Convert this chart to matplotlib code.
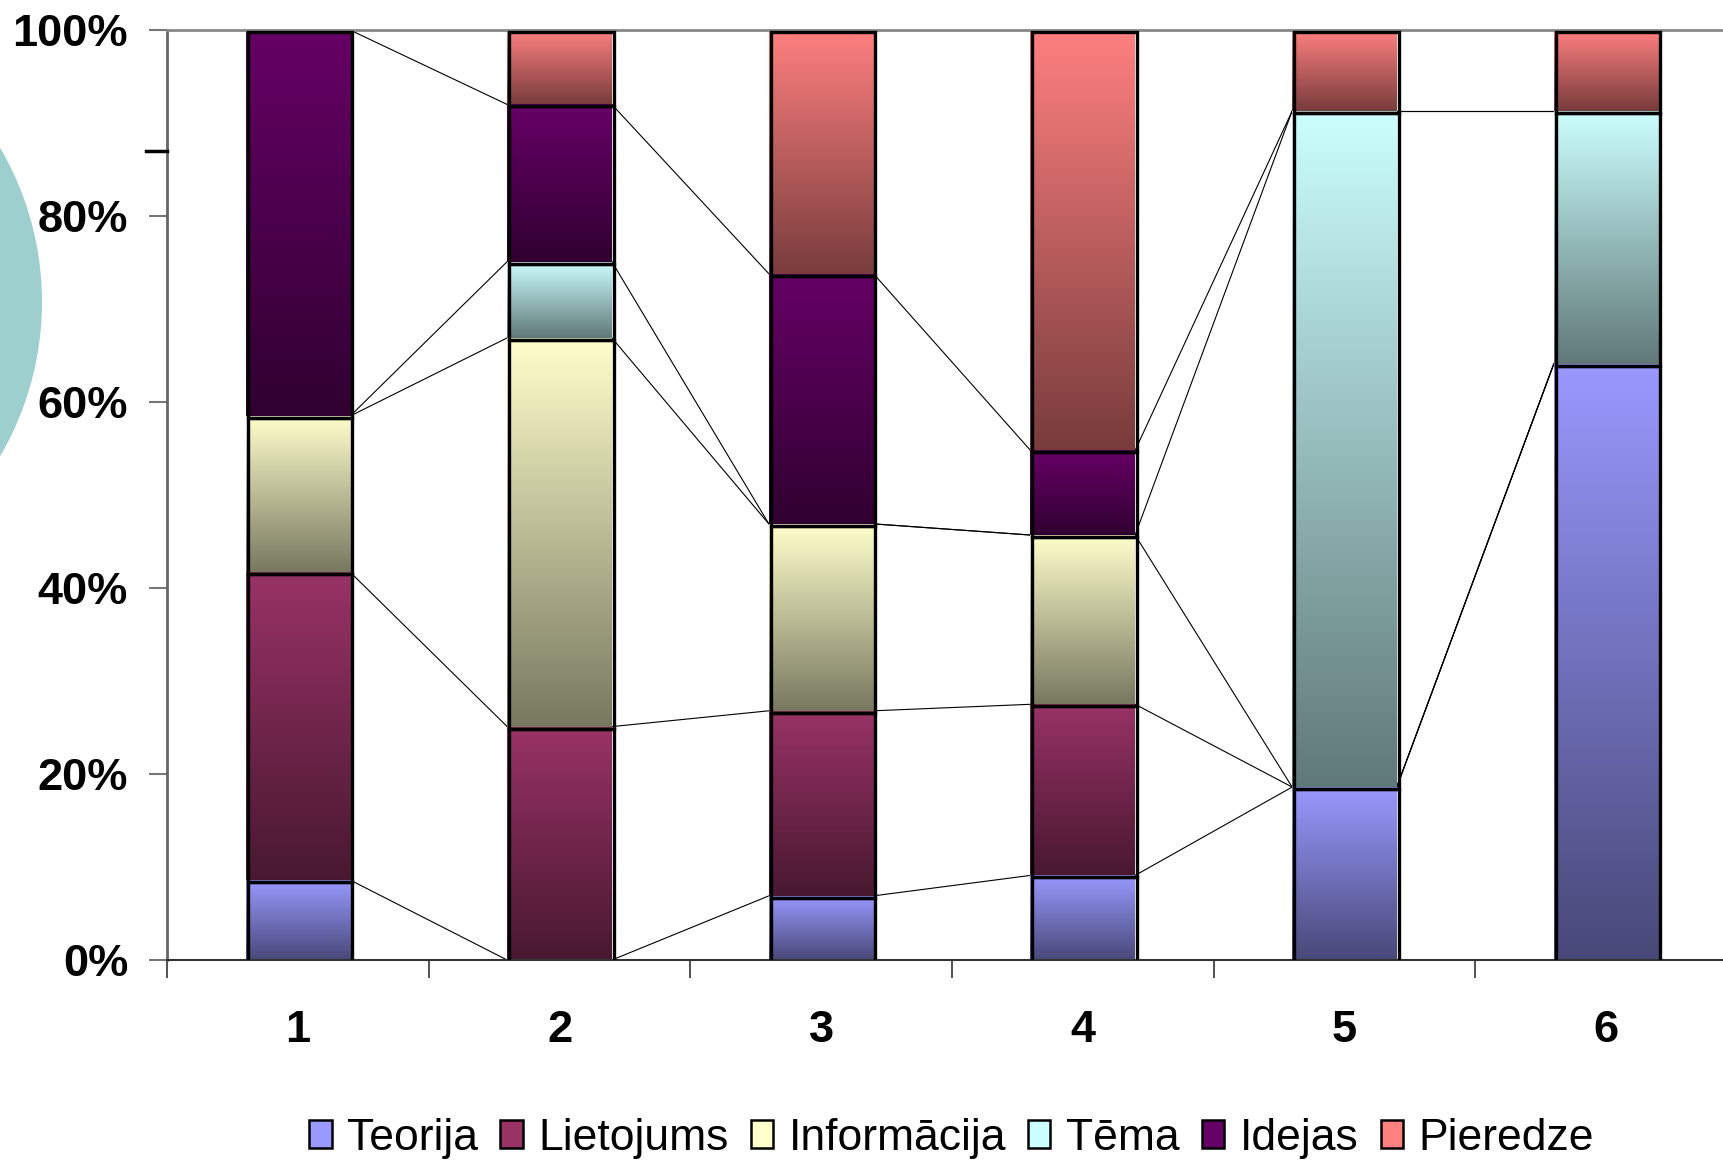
import numpy as np
import matplotlib
matplotlib.use("Agg")
import matplotlib.pyplot as plt
import matplotlib.transforms as mtransforms
from matplotlib.patches import Circle, Patch
from matplotlib.colors import to_rgb

plt.rcParams['font.family'] = ['Liberation Sans', 'DejaVu Sans']

# dati (procenti katrā stabiņā)
categories = ['1', '2', '3', '4', '5', '6']
series = ['Teorija', 'Lietojums', 'Informācija', 'Tēma', 'Idejas', 'Pieredze']
teorija     = [8.6, 0.0, 6.9, 9.1, 18.6, 64.1]
lietojums   = [33.1, 25.1, 19.9, 18.4, 0.0, 0.0]
informacija = [16.8, 41.8, 20.1, 18.2, 0.0, 0.0]
tema        = [0.0, 8.2, 0.0, 0.0, 72.7, 27.2]
idejas      = [41.5, 16.9, 26.9, 9.1, 0.0, 0.0]
pieredze    = [0.0, 8.0, 26.2, 45.2, 8.7, 8.7]

light = ['#9999FF', '#993366', '#FFFFCC', '#CCFFFF', '#660066', '#FF8080']
dark  = ['#484878', '#481830', '#787860', '#607878', '#300030', '#783C3C']

data = np.array([teorija, lietojums, informacija, tema, idejas, pieredze])
x = np.arange(1, len(categories) + 1)
w = 0.40

fig = plt.figure(figsize=(17.24, 11.61), dpi=100)
fig.patches.append(Circle((-263, 1161 - 302), 305, transform=None,
                          facecolor='#9DCFCF', edgecolor='none', zorder=0))
ax = fig.add_axes([0.0969, 0.1731, 0.9106, 0.801])
ax.patch.set_alpha(0)

shift = mtransforms.offset_copy(ax.transData, fig, x=2, y=-2, units='dots')

bottoms = np.zeros(len(categories))
tops = []
for k, name in enumerate(series):
    vals = data[k]
    c0 = np.array(to_rgb(dark[k]))
    c1 = np.array(to_rgb(light[k]))
    grad = np.linspace(0, 1, 256)[:, None, None] * (c1 - c0) + c0
    for i in range(len(categories)):
        if vals[i] <= 0:
            continue
        ax.imshow(grad, extent=[x[i] - w / 2, x[i] + w / 2, bottoms[i], bottoms[i] + vals[i]],
                  origin='lower', aspect='auto', interpolation='bilinear', zorder=2)
    ax.bar(x, vals, w, bottom=bottoms, facecolor='none',
           edgecolor=['black' if v > 0 else 'none' for v in vals],
           linewidth=2.4, transform=shift, zorder=3)
    bottoms = bottoms + vals
    tops.append(bottoms.copy())

# sērijas līnijas
for top in tops:
    for i in range(len(categories) - 1):
        ax.plot([x[i] + w / 2, x[i + 1] - w / 2], [top[i], top[i + 1]],
                color='black', lw=0.8, zorder=1)

ax.set_xlim(0.5, 6.5)
ax.set_ylim(0, 100)

ax.set_yticks([0, 20, 40, 60, 80, 100])
ax.set_yticklabels(['0%', '20%', '40%', '60%', '80%', '100%'],
                   fontsize=32.5, fontweight='bold')
ax.set_xticks(x)
ax.set_xticklabels(categories, fontsize=32.5, fontweight='bold')
ax.set_xticks(np.arange(0.5, 7, 1), minor=True)
ax.tick_params(axis='x', which='major', length=0, pad=36)
ax.tick_params(axis='x', which='minor', length=13, width=1.2, color='#333333', direction='out')
ax.tick_params(axis='y', length=13, width=1.5, color='#777777', pad=15)

ax.spines['top'].set_color('#888888')
ax.spines['top'].set_linewidth(2)
ax.spines['left'].set_color('#666666')
ax.spines['left'].set_linewidth(2)
ax.spines['bottom'].set_color('#333333')
ax.spines['bottom'].set_linewidth(1.5)
ax.spines['right'].set_visible(False)

# melna svītra pie kreisās ass
ax.plot([-0.0135, 0], [87, 87], transform=ax.get_yaxis_transform(),
        color='black', lw=2.5, clip_on=False, zorder=4)

handles = [Patch(facecolor=light[k], edgecolor='black', linewidth=1.8) for k in range(len(series))]
fig.legend(handles, series, loc='center', bbox_to_anchor=(0.552, 0.0195), ncol=6,
           frameon=False, fontsize=32, handlelength=0.5, handleheight=0.6,
           handletextpad=0.35, columnspacing=0.5, borderaxespad=0)

fig.savefig('out.png', dpi=100)
